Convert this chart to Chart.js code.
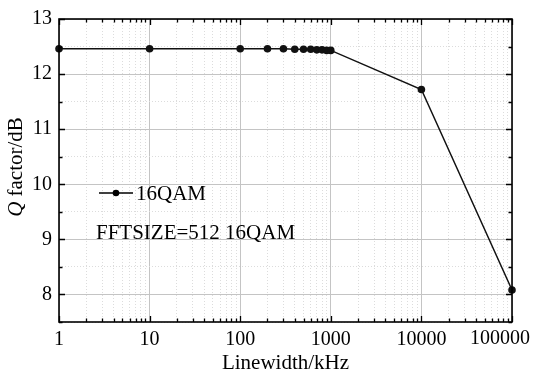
<!DOCTYPE html>
<html>
<head>
<meta charset="utf-8">
<script src="https://cdn.jsdelivr.net/npm/chart.js@4/dist/chart.umd.min.js"></script>
<style>
  html, body { margin: 0; padding: 0; background: #fff; }
  #box { width: 535px; height: 376px; }
</style>
</head>
<body>
<div id="box"><canvas id="c" width="535" height="376"></canvas></div>
<script>
// linewidth (kHz) vs Q factor (dB), FFTSIZE=512, 16QAM
const linewidths = [1, 10, 100, 200, 300, 400, 500, 600, 700, 800, 900, 1000, 10000, 100000];
const qFactor = [12.46, 12.46, 12.46, 12.46, 12.46, 12.45, 12.45, 12.45, 12.44, 12.44, 12.43, 12.43, 11.72, 8.08];
const xDecades = [1, 10, 100, 1000, 10000, 100000];
const yRange = [7.5, 13];

const SERIF = "'Liberation Serif','Times New Roman',serif";
const isDecade = (v) => Math.abs(Math.log10(v) - Math.round(Math.log10(v))) < 1e-9;
const lastX = xDecades[xDecades.length - 1];
const MAJOR = '#c4c4c4';
const MINOR = '#dcdcdc';

/* inward ticks on all four sides, closed frame, legend, note and y title */
const decor = {
  id: 'decor',
  afterDraw(chart) {
    const { ctx, chartArea: a, scales: { x, y } } = chart;
    ctx.save();
    ctx.strokeStyle = '#000';
    ctx.lineWidth = 1.3;
    ctx.beginPath();
    x.ticks.forEach((t) => {
      const px = Math.round(x.getPixelForValue(t.value)) + 0.5;
      const len = isDecade(t.value) ? 6 : 3.5;
      ctx.moveTo(px, a.bottom); ctx.lineTo(px, a.bottom - len);
      ctx.moveTo(px, a.top); ctx.lineTo(px, a.top + len);
    });
    y.ticks.forEach((t) => {
      const py = Math.round(y.getPixelForValue(t.value)) + 0.5;
      const len = Number.isInteger(t.value) ? 6 : 3.5;
      ctx.moveTo(a.left, py); ctx.lineTo(a.left + len, py);
      ctx.moveTo(a.right, py); ctx.lineTo(a.right - len, py);
    });
    ctx.stroke();
    ctx.lineWidth = 1.6;
    ctx.strokeRect(a.left, a.top, a.right - a.left, a.bottom - a.top);

    ctx.fillStyle = '#000';
    // last x label would overflow the canvas, so it sits a bit to the left
    ctx.font = '20px ' + SERIF;
    ctx.textAlign = 'center';
    ctx.textBaseline = 'middle';
    ctx.fillText(String(lastX), x.getPixelForValue(lastX) - 12, 339);

    // legend sample
    ctx.lineWidth = 1.4;
    ctx.beginPath();
    ctx.moveTo(99, 193); ctx.lineTo(133, 193);
    ctx.stroke();
    ctx.beginPath();
    ctx.arc(116, 193, 3.3, 0, Math.PI * 2);
    ctx.fill();
    ctx.font = '21px ' + SERIF;
    ctx.textBaseline = 'alphabetic';
    ctx.textAlign = 'left';
    ctx.fillText('16QAM', 136, 200);
    ctx.fillText('FFTSIZE=512 16QAM', 96, 239);

    // y title with italic Q
    ctx.translate(22, 167);
    ctx.rotate(-Math.PI / 2);
    ctx.font = 'italic 21px ' + SERIF;
    const wq = ctx.measureText('Q').width;
    ctx.font = '21px ' + SERIF;
    const wr = ctx.measureText(' factor/dB').width;
    const sx = -(wq + wr) / 2;
    ctx.font = 'italic 21px ' + SERIF;
    ctx.fillText('Q', sx, 0);
    ctx.font = '21px ' + SERIF;
    ctx.fillText(' factor/dB', sx + wq, 0);
    ctx.restore();
  }
};

new Chart(document.getElementById('c'), {
  type: 'line',
  data: {
    datasets: [{
      label: '16QAM',
      data: linewidths.map((v, i) => ({ x: v, y: qFactor[i] })),
      borderColor: '#111',
      backgroundColor: '#111',
      borderWidth: 1.5,
      pointRadius: 3.8,
      pointBackgroundColor: '#111',
      pointBorderWidth: 0,
      tension: 0,
      clip: 6
    }]
  },
  options: {
    responsive: false,
    animation: false,
    layout: { padding: { left: 0, right: 23, top: 17, bottom: 0 } },
    plugins: { legend: { display: false }, tooltip: { enabled: false } },
    scales: {
      x: {
        type: 'logarithmic',
        min: xDecades[0],
        max: lastX,
        afterBuildTicks(s) {
          const t = [];
          for (let i = 0; i < xDecades.length - 1; i++) {
            for (let k = 1; k < 10; k++) t.push({ value: xDecades[i] * k });
          }
          t.push({ value: lastX });
          s.ticks = t;
        },
        afterFit(s) { s.height = 54; s.paddingLeft = 0; s.paddingRight = 0; },
        ticks: {
          autoSkip: false,
          maxRotation: 0,
          padding: 6,
          color: '#000',
          font: { family: SERIF, size: 20 },
          callback: (v) => (isDecade(v) && v !== lastX ? String(v) : '')
        },
        grid: {
          drawTicks: false,
          color: (c) => (c.tick && isDecade(c.tick.value) ? MAJOR : MINOR),
          lineWidth: 1
        },
        border: { display: false, dash: (c) => (c.tick && isDecade(c.tick.value) ? [] : [1, 2]) },
        title: {
          display: true,
          text: 'Linewidth/kHz',
          color: '#000',
          font: { family: SERIF, size: 21 },
          padding: { top: 0, bottom: 0 }
        }
      },
      y: {
        min: yRange[0],
        max: yRange[1],
        afterFit(s) { s.width = 59; },
        ticks: {
          stepSize: 0.5,
          autoSkip: false,
          padding: 7,
          color: '#000',
          font: { family: SERIF, size: 20 },
          callback: (v) => (Number.isInteger(v) ? String(v) : '')
        },
        grid: {
          drawTicks: false,
          color: (c) => (c.tick && Number.isInteger(c.tick.value) ? MAJOR : MINOR),
          lineWidth: 1
        },
        border: { display: false, dash: (c) => (c.tick && Number.isInteger(c.tick.value) ? [] : [1, 2]) }
      }
    }
  },
  plugins: [decor]
});
</script>
</body>
</html>
